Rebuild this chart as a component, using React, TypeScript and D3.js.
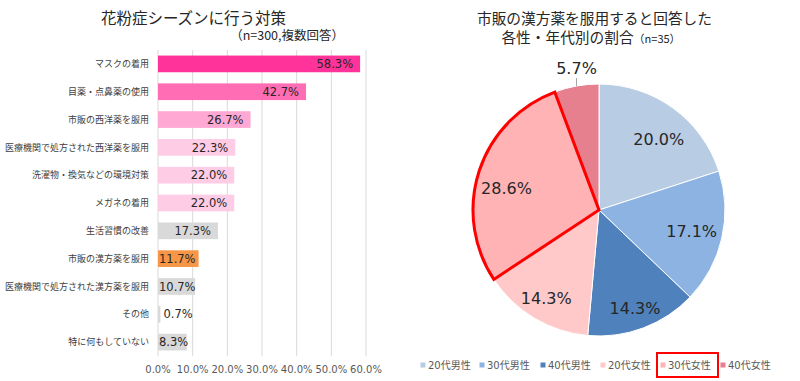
import React from "react";
import * as d3 from "d3";

const barCategories = [
  "マスクの着用",
  "目薬・点鼻薬の使用",
  "市販の西洋薬を服用",
  "医療機関で処方された西洋薬を服用",
  "洗濯物・換気などの環境対策",
  "メガネの着用",
  "生活習慣の改善",
  "市販の漢方薬を服用",
  "医療機関で処方された漢方薬を服用",
  "その他",
  "特に何もしていない",
];
const barValues = [58.3, 42.7, 26.7, 22.3, 22.0, 22.0, 17.3, 11.7, 10.7, 0.7, 8.3];
const barColors = [
  "#FF3399", "#FF6EB4", "#FFA8D4", "#FFCCE5", "#FFCCE5", "#FFCCE5",
  "#D9D9D9", "#F79646", "#D9D9D9", "#D9D9D9", "#D9D9D9",
];
const xTicks = [0, 10, 20, 30, 40, 50, 60];

const pieCategories = ["20代男性", "30代男性", "40代男性", "20代女性", "30代女性", "40代女性"];
const pieCounts = [7, 6, 5, 5, 10, 2];
const pieLabels = ["20.0%", "17.1%", "14.3%", "14.3%", "28.6%", "5.7%"];
const pieColors = ["#B8CCE4", "#8DB3E2", "#4F81BD", "#FFC9C9", "#FFB3B5", "#E6808F"];
const highlighted = "30代女性";
// label placement tweaks (best-fit style): radius and angular shift in degrees
const labelRadius = [93, 95, 105, 103, 95, 0];
const labelShiftDeg = [4, 0, 0.5, 0, -5, 0];

const LATIN = "'DejaVu Sans', 'Noto Sans CJK JP', sans-serif";
const CJK = "'Noto Sans CJK JP', sans-serif";

function approxWidth(s: string, fs: number) {
  let w = 0;
  for (const c of s) {
    if (c === ".") w += 0.318;
    else if (c === "%") w += 0.95;
    else w += 0.636;
  }
  return w * fs;
}

export default function App() {
  const x = d3.scaleLinear().domain([0, 60]).range([158, 366]);
  const y = d3
    .scaleBand<string>()
    .domain(barCategories)
    .range([50, 356])
    .paddingInner(0.4)
    .paddingOuter(0.2);

  const cx = 599;
  const cy = 210;
  const R = 126;
  const pie = d3
    .pie<number>()
    .sort(null)
    .value((d) => d)
    .startAngle(0)
    .endAngle(Math.PI * 2);
  const arcs = pie(pieCounts);
  const arc = d3.arc<d3.PieArcDatum<number>>().innerRadius(0).outerRadius(R);
  const edgeArc = d3.arc<d3.PieArcDatum<number>>().innerRadius(R).outerRadius(R);

  const valFs = 11.5;
  const legendX = [423, 482, 543, 603, 663, 723];

  return (
    <svg
      width={800}
      height={381}
      style={{ position: "absolute", left: 0, top: 0, background: "#fff" }}
    >
      <rect x={0} y={0} width={800} height={381} fill="#fff" />
      {/* Left chart title */}
      <text x={193.5} y={24} textAnchor="middle" fontFamily={CJK} fontSize={15.5} fill="#262626">
        花粉症シーズンに行う対策
      </text>
      <text x={344} y={40} textAnchor="end" fontFamily={CJK} fontSize={12.5} fill="#262626">
        （n=300,複数回答）
      </text>

      {/* gridlines */}
      {xTicks.map((t) => (
        <line key={t} x1={x(t)} x2={x(t)} y1={50} y2={356} stroke="#D9D9D9" strokeWidth={1} />
      ))}
      {xTicks.map((t) => (
        <text
          key={"t" + t}
          x={x(t)}
          y={373}
          textAnchor="middle"
          fontFamily={LATIN}
          fontSize={10}
          fill="#595959"
        >
          {t.toFixed(1)}%
        </text>
      ))}

      {barCategories.map((c, i) => {
        const y0 = y(c)!;
        const bw = y.bandwidth();
        const x0 = x(0);
        const x1 = x(barValues[i]);
        const label = barValues[i].toFixed(1) + "%";
        const tw = approxWidth(label, valFs);
        let tx: number;
        let anchor: "start" | "end" = "end";
        if (x1 - 7 - tw >= x0) {
          tx = x1 - 7;
        } else if (x1 - x0 < 10) {
          tx = x1 + 3;
          anchor = "start";
        } else {
          tx = x0 + 1;
          anchor = "start";
        }
        return (
          <g key={c}>
            <rect x={x0} y={y0} width={x1 - x0} height={bw} fill={barColors[i]} />
            <text
              x={149}
              y={y0 + bw / 2}
              dy="0.35em"
              textAnchor="end"
              fontFamily={CJK}
              fontSize={9}
              fill="#404040"
            >
              {c}
            </text>
            <text
              x={tx}
              y={y0 + bw / 2}
              dy="0.36em"
              textAnchor={anchor}
              fontFamily={LATIN}
              fontSize={valFs}
              fill="#262626"
            >
              {label}
            </text>
          </g>
        );
      })}

      {/* Right chart title */}
      <text x={594.5} y={24} textAnchor="middle" fontFamily={CJK} fontSize={14.7} fill="#262626">
        市販の漢方薬を服用すると回答した
      </text>
      <text x={591} y={43} textAnchor="middle" fontFamily={CJK} fill="#262626">
        <tspan fontSize={14.7}>各性・年代別の割合</tspan>
        <tspan fontSize={11}>（n=35）</tspan>
      </text>

      <g transform={`translate(${cx},${cy})`}>
        {arcs.map((a, i) => (
          <path key={i} d={arc(a)!} fill={pieColors[i]} stroke="#fff" strokeWidth={1} />
        ))}
        {arcs.map((a, i) =>
          pieCategories[i] === highlighted ? (
            <path
              key={"h" + i}
              d={arc(a)!}
              fill="none"
              stroke="#FF0000"
              strokeWidth={3}
              strokeLinejoin="miter"
            />
          ) : null
        )}
        {arcs.map((a, i) => {
          const small = a.endAngle - a.startAngle < 0.5;
          if (small) {
            const [ex, ey] = edgeArc.centroid(a);
            return (
              <g key={"l" + i}>
                <line x1={ex} y1={ey} x2={ex} y2={ey - 8} stroke="#A6A6A6" strokeWidth={1} />
                <text
                  x={ex}
                  y={ey - 12}
                  textAnchor="middle"
                  fontFamily={LATIN}
                  fontSize={16}
                  fill="#262626"
                >
                  {pieLabels[i]}
                </text>
              </g>
            );
          }
          const ang = (a.startAngle + a.endAngle) / 2 + (labelShiftDeg[i] * Math.PI) / 180;
          const r = labelRadius[i];
          const lx = r * Math.sin(ang);
          const ly = -r * Math.cos(ang);
          return (
            <text
              key={"l" + i}
              x={lx}
              y={ly}
              dy="0.36em"
              textAnchor="middle"
              fontFamily={LATIN}
              fontSize={16}
              fill="#262626"
            >
              {pieLabels[i]}
            </text>
          );
        })}
      </g>

      {/* legend */}
      {pieCategories.map((c, i) => (
        <g key={"lg" + i}>
          <rect x={legendX[i] - 2.5} y={362.5} width={5} height={5} fill={pieColors[i]} />
          <text
            x={legendX[i] + 5}
            y={365}
            dy="0.35em"
            fontFamily={LATIN}
            fontSize={10}
            fill="#595959"
          >
            {c}
          </text>
          {c === highlighted ? (
            <rect
              x={legendX[i] - 6}
              y={353}
              width={61}
              height={24}
              fill="none"
              stroke="#FF0000"
              strokeWidth={2}
            />
          ) : null}
        </g>
      ))}
    </svg>
  );
}
